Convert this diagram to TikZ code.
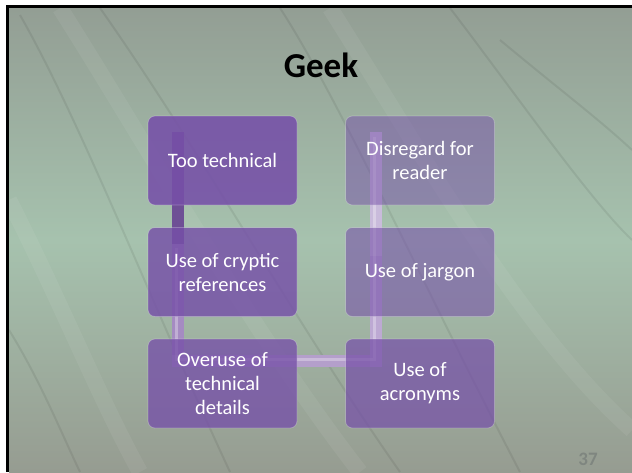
\documentclass[tikz,border=0pt]{standalone}
\usepackage{fontspec}
\setmainfont{Carlito}
\usetikzlibrary{calc}
\pgfdeclarelayer{back}
\pgfdeclarelayer{pipes}
\pgfsetlayers{back,pipes,main}
\definecolor{boxpurple}{HTML}{7650A8}
\definecolor{bgtop}{HTML}{939E94}
\definecolor{bgmid}{HTML}{A6C2AE}
\definecolor{bgbot}{HTML}{969C91}
\definecolor{pipeA}{HTML}{6E4F95}
\definecolor{pipeB}{HTML}{A58BC2}
\definecolor{pipeC}{HTML}{B49FCB}
\definecolor{pipeD}{HTML}{BDA9D3}
\definecolor{pipeE}{HTML}{C9BBDB}
\definecolor{pagenum}{HTML}{7F8680}
\begin{document}
\begin{tikzpicture}[x=1pt,y=-1pt,
  box/.style={rounded corners=7pt, minimum width=149pt, minimum height=89pt,
    fill=boxpurple, draw=white, draw opacity=0.25, line width=0.8pt,
    text=white, text opacity=1, font=\fontsize{20.5}{24}\selectfont,
    align=center, inner sep=0pt},
  pipe/.style={line width=12pt, line cap=rect},
  shine/.style={line width=3pt, white, opacity=0.3, line cap=rect},
  streak/.style={black, opacity=0.07, line width=2pt},
  band/.style={white, opacity=0.06, line width=16pt}]
\useasboundingbox (0,0) rectangle (632,472);

% nodes
\node[box, fill opacity=0.88] (t1) at (222.5,160.5) {Too technical};
\node[box, fill opacity=0.82] (a2) at (222.5,272) {Use of cryptic\\references};
\node[box, fill opacity=0.78] (a3) at (222.5,383.5) {Overuse of\\technical\\details};
\node[box, fill opacity=0.72] (b3) at (420,383.5) {Use of\\acronyms};
\node[box, fill opacity=0.58] (b2) at (420,272) {Use of jargon};
\node[box, fill opacity=0.50] (b1) at (420,160.5) {Disregard for\\reader};

\node[font=\fontsize{35}{40}\selectfont\bfseries, anchor=base] (title) at (321,77) {Geek};
\node[font=\fontsize{19}{22}\selectfont\bfseries, text=pagenum, anchor=base] (num) at (588,465) {37};

% background
\begin{pgfonlayer}{back}
  \fill[white] (0,0) rectangle (632,472);
  \fill[black] (6,5) rectangle (632,472);
  \shade[top color=bgtop, bottom color=bgbot, middle color=bgmid] (9,8) rectangle (632,472);
  \begin{scope}
    \clip (9,8) rectangle (632,472);
    \draw[band] (60,8) .. controls (150,150) and (250,330) .. (360,472);
    \draw[band] (330,8) .. controls (420,150) and (520,330) .. (632,430);
    \draw[band] (9,200) .. controls (60,300) and (100,400) .. (140,472);
    \draw[streak] (20,15) .. controls (80,120) and (150,300) .. (230,472);
    \draw[streak] (100,8) .. controls (200,150) and (300,330) .. (400,472);
    \draw[streak] (280,8) .. controls (340,100) and (430,300) .. (520,472);
    \draw[streak] (450,8) .. controls (520,100) and (590,200) .. (632,240);
    \draw[streak] (500,40) .. controls (560,90) and (600,120) .. (632,150);
    \draw[streak] (9,330) .. controls (40,380) and (60,430) .. (80,472);
  \end{scope}
\end{pgfonlayer}

% connectors
\begin{pgfonlayer}{pipes}
  \coordinate (c1) at ($(t1.center)+(-44.5,-22.5)$);
  \coordinate (c2) at ($(a2.center)+(-44.5,-22.5)$);
  \coordinate (c3) at ($(a3.center)+(-44.5,-22.5)$);
  \coordinate (c4) at ($(b3.center)+(-44,-22.5)$);
  \coordinate (c5) at ($(b2.center)+(-44,-22.5)$);
  \coordinate (c6) at ($(b1.center)+(-44,-22.5)$);
  \draw[pipe, pipeA] (c1) -- (c2);
  \draw[pipe, pipeB] (c2) -- (c3);
  \draw[pipe, pipeC] (c3) -- (c4);
  \draw[pipe, pipeD] (c4) -- (c5);
  \draw[pipe, pipeE] (c5) -- (c6);
  \draw[shine] ($(c2)+(-2,0)$) -- ($(c3)+(-2,-2)$) -- ($(c4)+(-2,-2)$) -- ($(c6)+(-2,0)$);
\end{pgfonlayer}
\end{tikzpicture}
\end{document}
